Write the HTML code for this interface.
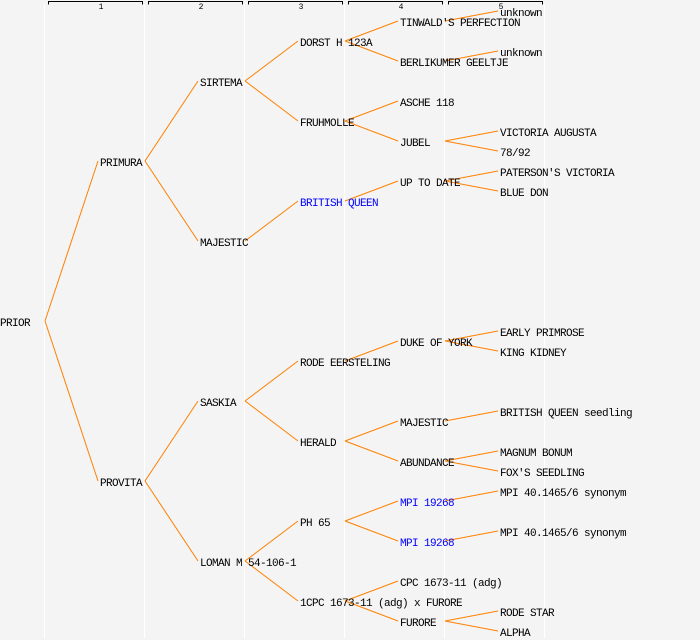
<!DOCTYPE html>
<html><head><meta charset="utf-8"><style>
html,body{margin:0;padding:0;background:#f4f4f4;}
svg{display:block}
text{font-family:"Liberation Mono","DejaVu Sans Mono",monospace;font-size:11px;letter-spacing:-0.6px;fill:#000;}
.b{fill:#0000ff}
.h{font-size:8px;letter-spacing:0}
</style></head><body>
<svg width="700" height="640" viewBox="0 0 700 640" xmlns="http://www.w3.org/2000/svg">
<rect width="700" height="640" fill="#f4f4f4"/>
<g stroke="#ffffff" stroke-width="1">
<path d="M44.5 4V638M144.5 4V638M244.5 4V638M344.5 4V638M444.5 4V638M544.5 4V638"/>
</g>
<g stroke="#000" stroke-width="1" fill="none">
<path d="M48.5 4.5V1.5H142.5V4.5"/>
<path d="M148.5 4.5V1.5H242.5V4.5"/>
<path d="M248.5 4.5V1.5H342.5V4.5"/>
<path d="M348.5 4.5V1.5H442.5V4.5"/>
<path d="M448.5 4.5V1.5H542.5V4.5"/>
</g>
<g text-anchor="middle">
<text class="h" x="101" y="9">1</text>
<text class="h" x="201" y="9">2</text>
<text class="h" x="301" y="9">3</text>
<text class="h" x="401" y="9">4</text>
<text class="h" x="501" y="9">5</text>
</g>
<g stroke="#ff8000" stroke-width="1" fill="none">
<path d="M45 321L98 161M45 321L98 481"/>
<path d="M145 161L198 81M145 161L198 241M145 481L198 401M145 481L198 561"/>
<path d="M245 81L298 41M245 81L298 121M245 241L298 201M245 401L298 361M245 401L298 441M245 561L298 521M245 561L298 601"/>
<path d="M345 41L398 21M345 41L398 61M345 121L398 101M345 121L398 141M345 201L398 181M345 361L398 341M345 441L398 421M345 441L398 461M345 521L398 501M345 521L398 541M345 601L398 581M345 601L398 621"/>
<path d="M445 21L498 11M445 61L498 51M445 141L498 131M445 141L498 151M445 181L498 171M445 181L498 191M445 341L498 331M445 341L498 351M445 421L498 411M445 461L498 451M445 461L498 471M445 501L498 491M445 541L498 531M445 621L498 611M445 621L498 631"/>
</g>
<g>
<text x="0" y="326">PRIOR</text>
<text x="100" y="166">PRIMURA</text>
<text x="100" y="486">PROVITA</text>
<text x="200" y="86">SIRTEMA</text>
<text x="200" y="246">MAJESTIC</text>
<text x="200" y="406">SASKIA</text>
<text x="200" y="566">LOMAN M 54-106-1</text>
<text x="300" y="46">DORST H 123A</text>
<text x="300" y="126">FRUHMOLLE</text>
<text x="300" y="206" class="b">BRITISH QUEEN</text>
<text x="300" y="366">RODE EERSTELING</text>
<text x="300" y="446">HERALD</text>
<text x="300" y="526">PH 65</text>
<text x="300" y="606">1CPC 1673-11 (adg) x FURORE</text>
<text x="400" y="26">TINWALD'S PERFECTION</text>
<text x="400" y="66">BERLIKUMER GEELTJE</text>
<text x="400" y="106">ASCHE 118</text>
<text x="400" y="146">JUBEL</text>
<text x="400" y="186">UP TO DATE</text>
<text x="400" y="346">DUKE OF YORK</text>
<text x="400" y="426">MAJESTIC</text>
<text x="400" y="466">ABUNDANCE</text>
<text x="400" y="506" class="b">MPI 19268</text>
<text x="400" y="546" class="b">MPI 19268</text>
<text x="400" y="586">CPC 1673-11 (adg)</text>
<text x="400" y="626">FURORE</text>
<text x="500" y="16">unknown</text>
<text x="500" y="56">unknown</text>
<text x="500" y="136">VICTORIA AUGUSTA</text>
<text x="500" y="156">78/92</text>
<text x="500" y="176">PATERSON'S VICTORIA</text>
<text x="500" y="196">BLUE DON</text>
<text x="500" y="336">EARLY PRIMROSE</text>
<text x="500" y="356">KING KIDNEY</text>
<text x="500" y="416">BRITISH QUEEN seedling</text>
<text x="500" y="456">MAGNUM BONUM</text>
<text x="500" y="476">FOX'S SEEDLING</text>
<text x="500" y="496">MPI 40.1465/6 synonym</text>
<text x="500" y="536">MPI 40.1465/6 synonym</text>
<text x="500" y="616">RODE STAR</text>
<text x="500" y="636">ALPHA</text>
</g>
</svg>
</body></html>
